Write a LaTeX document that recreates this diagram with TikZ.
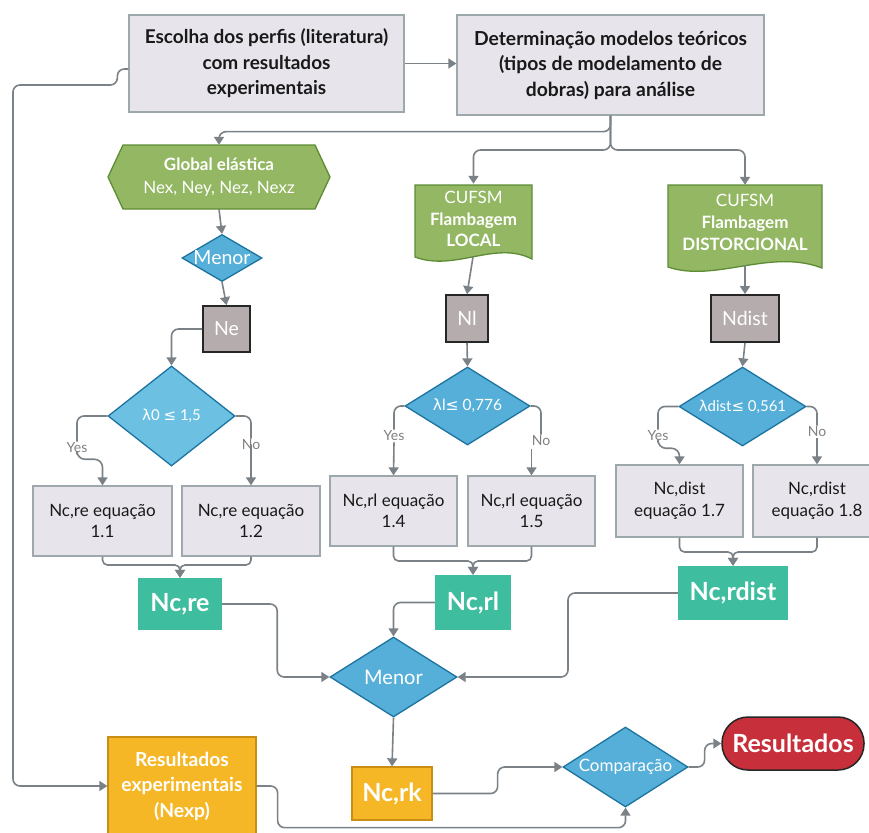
\documentclass[tikz,border=0pt]{standalone}
\usepackage{fontspec}
\setmainfont{Lato}
\newfontfamily\symfont{DejaVu Sans}
\usetikzlibrary{arrows.meta,shapes.geometric,calc}
\definecolor{cg}{HTML}{7A8287}
\definecolor{gf}{HTML}{E7E5EB}
\definecolor{gb}{HTML}{9DA8AD}
\definecolor{grf}{HTML}{93B763}
\definecolor{grb}{HTML}{5D8C35}
\definecolor{blf}{HTML}{55AFD9}
\definecolor{blfl}{HTML}{6CC1E3}
\definecolor{blb}{HTML}{1C73A0}
\definecolor{tl}{HTML}{3EBE9E}
\definecolor{nf}{HTML}{B5ADAD}
\definecolor{yf}{HTML}{F6B727}
\definecolor{yb}{HTML}{C98E14}
\definecolor{rf}{HTML}{C7303B}
\definecolor{ylab}{HTML}{808080}
\newcommand{\lam}{{\symfont λ}}
\newcommand{\leqsym}{{\symfont ≤}}
\tikzset{
  line/.style={draw=cg, line width=1.6pt, rounded corners=7pt},
  conn/.style={line, -{Triangle[length=8pt,width=10pt]}},
  graybox/.style={rectangle, draw=gb, fill=gf, line width=1.3pt, align=center, inner sep=0pt, text=black!90},
  shapetext/.style={align=center, inner sep=0pt, text=white},
  shapefill/.style={draw=grb, fill=grf, line width=1.3pt},
  dia/.style={diamond, draw=blb, fill=blf, line width=1.3pt, inner sep=0pt},
  nbox/.style={rectangle, draw=black!85, fill=nf, line width=1.8pt, inner sep=0pt, text=white, font=\fontsize{19.5}{22}\selectfont},
  tealbox/.style={rectangle, fill=tl, inner sep=0pt, text=white, font=\fontsize{25}{27}\selectfont\bfseries},
  yellowbox/.style={rectangle, draw=yb, fill=yf, line width=1.3pt, inner sep=0pt, text=white, align=center},
  yn/.style={inner sep=1pt, text=ylab, font=\fontsize{14}{16}\selectfont},
  eqbox/.style={graybox, font=\fontsize{17}{21}\selectfont},
}
\begin{document}
\begin{tikzpicture}[x=1pt,y=-1pt]
\clip (0,0) rectangle (869,832);
\fill[white] (0,0) rectangle (869,832);

% top boxes
\node[graybox, minimum width=275pt, minimum height=97pt, font=\fontsize{19}{25.5}\selectfont\bfseries] (b1) at (266.5,63.5)
  {Escolha dos perfis (literatura)\\com resultados\\experimentais};
\node[graybox, minimum width=307pt, minimum height=100pt, font=\fontsize{19.3}{25.5}\selectfont\bfseries] (b2) at (610.5,65)
  {Determinação modelos teóricos\\(tipos de modelamento de\\dobras) para análise};

% global elastica hexagon
\filldraw[shapefill] (108,177) -- (123,145) -- (315,145) -- (330,177) -- (315,209) -- (123,209) -- cycle;
\node[shapetext, minimum width=222pt, minimum height=64pt, font=\fontsize{17}{23}\selectfont] (ge) at (219,177)
  {\textbf{Global elástica}\\Nex, Ney, Nez, Nexz};

% CUFSM local document
\filldraw[shapefill] (415,185) -- (532,185) -- (532,259) .. controls (495,240) and (455,272) .. (415,257) -- cycle;
\node[shapetext, minimum width=117pt, minimum height=70pt, font=\fontsize{17}{21.5}\selectfont] (cl) at (473.5,219)
  {CUFSM\\\textbf{Flambagem}\\\textbf{LOCAL}};
\coordinate (clb) at (473,257);

% CUFSM distorcional document
\filldraw[shapefill] (668,185) -- (822,185) -- (822,268) .. controls (770,248) and (715,283) .. (668,267) -- cycle;
\node[shapetext, minimum width=154pt, minimum height=74pt, font=\fontsize{17}{22}\selectfont] (cd) at (745,222)
  {CUFSM\\\textbf{Flambagem}\\\textbf{DISTORCIONAL}};
\coordinate (cdb) at (745,265);

% left column
\node[dia, minimum width=80pt, minimum height=47pt,
  label={[text=white, font=\fontsize{19.5}{21}\selectfont]center:Menor}] (mn1) at (222,258) {};
\node[nbox, minimum width=47pt, minimum height=46pt] (ne) at (226.5,329) {Ne};
\node[dia, fill=blfl, minimum width=127pt, minimum height=100pt,
  label={[text=white, font=\fontsize{15}{17}\selectfont]center:\lam 0 \leqsym\ 1,5}] (d1) at (171.5,416) {};
\node[eqbox, minimum width=139pt, minimum height=70pt] (r11) at (102.5,521) {Nc,re equação\\1.1};
\node[eqbox, minimum width=138pt, minimum height=70pt] (r12) at (251,521) {Nc,re equação\\1.2};
\node[tealbox, minimum width=84pt, minimum height=52pt] (ncre) at (180,604) {Nc,re};

% middle column
\node[dia, minimum width=125pt, minimum height=78pt,
  label={[text=white, font=\fontsize{15.5}{18}\selectfont]center:\lam l\leqsym\ 0,776}] (d2) at (467.5,406) {};
\node[nbox, minimum width=42pt, minimum height=47pt] (nl) at (467,318.5) {Nl};
\node[eqbox, minimum width=127pt, minimum height=70pt] (r14) at (393.5,511) {Nc,rl equação\\1.4};
\node[eqbox, minimum width=127pt, minimum height=70pt] (r15) at (531.5,511) {Nc,rl equação\\1.5};
\node[tealbox, minimum width=76pt, minimum height=55pt] (ncrl) at (473,602.5) {Nc,rl};

% right column
\node[nbox, minimum width=68pt, minimum height=47pt] (nd) at (745,318.5) {Ndist};
\node[dia, minimum width=127pt, minimum height=79pt,
  label={[text=white, font=\fontsize{15}{17}\selectfont]center:\lam dist\leqsym\ 0,561}] (d3) at (742.5,406.5) {};
\node[eqbox, minimum width=127pt, minimum height=72pt, font=\fontsize{17}{22}\selectfont] (r17) at (679.5,501) {Nc,dist\\equação 1.7};
\node[eqbox, minimum width=128pt, minimum height=72pt, font=\fontsize{17}{22}\selectfont] (r18) at (817,501) {Nc,rdist\\equação 1.8};
\node[tealbox, minimum width=110pt, minimum height=54pt] (ncrd) at (733,593) {Nc,rdist};

% bottom
\node[dia, minimum width=127pt, minimum height=80pt,
  label={[text=white, font=\fontsize{20}{22}\selectfont]center:Menor}] (mn2) at (393.5,677) {};
\node[yellowbox, minimum width=80pt, minimum height=53pt, font=\fontsize{25}{27}\selectfont\bfseries] (ncrk) at (392,793.5) {Nc,rk};
\node[yellowbox, minimum width=148pt, minimum height=98pt, font=\fontsize{19.3}{25.5}\selectfont\bfseries] (nexp) at (182,786)
  {Resultados\\experimentais\\(Nexp)};
\node[dia, minimum width=125pt, minimum height=80pt,
  label={[text=white, font=\fontsize{17}{19}\selectfont]center:Comparação}] (comp) at (625.5,767) {};
\node[rectangle, rounded corners=26pt, draw=black!85, fill=rf, line width=1.5pt, minimum width=142pt, minimum height=53pt,
  inner sep=0pt, text=white, font=\fontsize{25}{27}\selectfont\bfseries] (res) at (793,743.5) {Resultados};

% yes/no labels
\node[yn] (y1) at (77,448) {Yes};
\node[yn] (n1) at (251,445) {No};
\node[yn] (y2) at (394,436) {Yes};
\node[yn] (n2) at (541,441) {No};
\node[yn] (y3) at (658,436) {Yes};
\node[yn] (n3) at (817,432) {No};

% connectors
\draw[conn] (b1.east) -- (b1.east -| b2.west);
\draw[conn] ([yshift=-5.5pt]b1.west) -- ++(-11,0) -- ++(0,16) -- (13,85) -- (13,786) -- (nexp.west);
\draw[conn] (b2.south) -- ++(0,16) -| (ge.north);
\coordinate (j1) at (610.5,150);
\draw[conn] (b2.south) -- (j1) -| (cl.north);
\draw[conn] (b2.south) -- (j1) -| (cd.north);

\draw[conn] (ge.south) -- (mn1.north);
\draw[conn] (mn1.south) -- (ne.north);
\draw[conn] (ne.west) -| (d1.north);
\draw[line] (d1.west) -| (y1.north);
\draw[conn, rounded corners=8pt] (y1.south) -- ++(0,5) -| (r11.north);
\draw[line] (d1.east) -| (n1.north);
\draw[conn] (n1.south) -- (n1.south -| r12.north) -- (r12.north);
\coordinate (m1) at (180,565);
\draw[conn, rounded corners=5pt] (r11.south) |- (m1) -- (ncre.north);
\draw[conn, rounded corners=5pt] (r12.south) |- (m1) -- (ncre.north);

\draw[conn] (clb) -- (nl.north);
\draw[conn] (nl.south) -- (d2.north);
\draw[line] (d2.west) -| (y2.north);
\draw[conn] (y2.south) -- (r14.north);
\draw[line] (d2.east) -| (n2.north);
\draw[conn] (n2.south -| r15.north) ++(0,2) -- (r15.north);
\coordinate (m2) at (473,561);
\draw[conn, rounded corners=5pt] (r14.south) |- (m2) -- (ncrl.north);
\draw[conn, rounded corners=5pt] (r15.south) |- (m2) -- (ncrl.north);

\draw[conn] (cdb) -- (nd.north);
\draw[conn] (nd.south) -- (d3.north);
\draw[line] (d3.west) -| (y3.north);
\draw[conn, rounded corners=8pt] (y3.south) -- ++(0,6) -| (r17.north);
\draw[line] (d3.east) -| (n3.north);
\draw[conn] (n3.south) -- (r18.north);
\coordinate (m3) at (733,552);
\draw[conn, rounded corners=5pt] (r17.south) |- (m3) -- (ncrd.north);
\draw[conn, rounded corners=5pt] (r18.south) |- (m3) -- (ncrd.north);

\draw[conn] (ncre.east) -- ++(55,0) |- (mn2.west);
\draw[conn] (ncrl.west) -| (mn2.north);
\draw[conn] (ncrd.west) -- (568,593) |- (mn2.east);
\draw[conn] (mn2.south) -- (ncrk.north);
\draw[conn] (ncrk.east) -- ++(65,0) |- (comp.west);
\draw[conn] (nexp.east) -- ++(21,0) |- ($(comp.south)+(0,20)$) -- (comp.south);
\draw[conn] (comp.east) -- ++(16,0) |- (res.west);
\end{tikzpicture}
\end{document}
